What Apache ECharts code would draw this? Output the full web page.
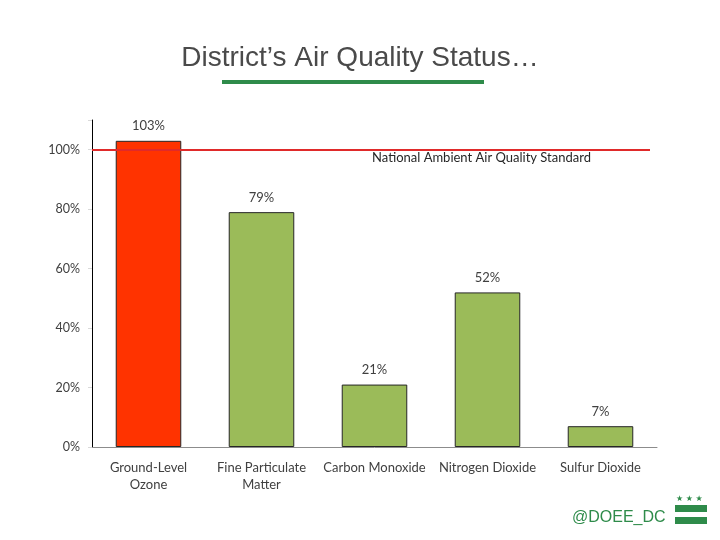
<!DOCTYPE html>
<html>
<head>
<meta charset="utf-8">
<script src="https://cdn.jsdelivr.net/npm/echarts@6/dist/echarts.min.js"></script>
<style>html,body{margin:0;padding:0;background:#fff}#c{width:720px;height:540px}</style>
</head>
<body>
<div id="c"></div>
<script>
var categories = ['Ground-Level\nOzone', 'Fine Particulate\nMatter', 'Carbon Monoxide', 'Nitrogen Dioxide', 'Sulfur Dioxide'];
var values = [103, 79, 21, 52, 7];
var barColors = ['#FF3300', '#9BBB59', '#9BBB59', '#9BBB59', '#9BBB59'];
var standardValue = 100;
var standardLabel = 'National Ambient Air Quality Standard';
var titleText = 'District\u2019s Air Quality Status\u2026';
var handleText = '@DOEE_DC';

var chart = echarts.init(document.getElementById('c'));
var font = 'Lato, "Open Sans", sans-serif';
chart.setOption({
  animation: false,
  title: {
    text: titleText, left: 'center', top: 39,
    textStyle: { fontFamily: 'Liberation Sans, Arial, sans-serif', fontSize: 28, fontWeight: 'normal', color: '#4a4a4a' }
  },
  grid: { left: 92, right: 63, top: 120, bottom: 93 },
  xAxis: {
    type: 'category', data: categories,
    axisLine: { lineStyle: { color: '#8c8c8c', width: 1 } },
    axisTick: { show: false },
    axisLabel: { fontFamily: font, fontSize: 13, color: '#404040', margin: 12, lineHeight: 17, interval: 0 }
  },
  yAxis: {
    type: 'value', min: 0, max: 110, interval: 20,
    axisLine: { show: true, lineStyle: { color: '#000', width: 1 } },
    axisTick: { show: true, length: 4, lineStyle: { color: '#d9d9d9' } },
    splitLine: { show: false },
    axisLabel: {
      fontFamily: font, fontSize: 12.5, color: '#404040', margin: 12,
      formatter: function (v) { return v > 100 ? '' : v + '%'; }
    }
  },
  series: [{
    type: 'bar',
    barWidth: '58%',
    data: values.map(function (v, i) {
      return { value: v, itemStyle: { color: barColors[i], borderColor: '#262626', borderWidth: 1 } };
    }),
    label: {
      show: true, position: 'top', distance: 8,
      fontFamily: font, fontSize: 13, color: '#404040',
      formatter: function (p) { return p.value + '%'; }
    },
    markLine: {
      symbol: 'none', silent: true,
      lineStyle: { color: '#E02A2A', width: 2, type: 'solid' },
      data: [[{ yAxis: standardValue, x: 92 }, { yAxis: standardValue, x: 650 }]],
      label: {
        show: true, position: 'insideEndBottom', formatter: standardLabel,
        fontFamily: font, fontSize: 13, color: '#262626', distance: 2, padding: [0, 57, 0, 0]
      }
    }
  }],
  graphic: [
    { type: 'rect', shape: { x: 222, y: 80, width: 262, height: 4 }, style: { fill: '#2E8B4A' } },
    { type: 'text', left: 572, top: 510, style: { text: handleText, fontFamily: 'Liberation Sans, Arial, sans-serif', fontSize: 16, fill: '#2E8B4A' } },
    { type: 'rect', shape: { x: 675, y: 505, width: 32, height: 7 }, style: { fill: '#2E8B4A' } },
    { type: 'rect', shape: { x: 675, y: 517, width: 32, height: 7 }, style: { fill: '#2E8B4A' } },
    { type: 'text', left: 676, top: 495, style: { text: '\u2605 \u2605 \u2605', fontFamily: 'DejaVu Sans, sans-serif', fontSize: 8, fill: '#2E8B4A' } }
  ]
});
</script>
</body>
</html>
